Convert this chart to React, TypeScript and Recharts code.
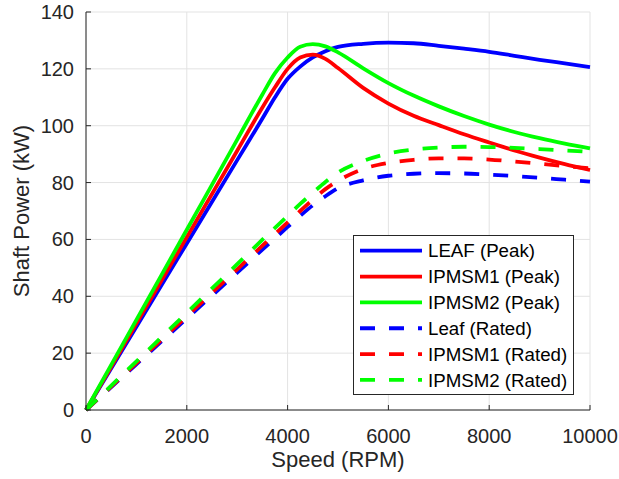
import { LineChart, Line, XAxis, YAxis, CartesianGrid, Legend } from 'recharts';

// speed samples (RPM)
const rpm = [0, 1000, 2000, 3000, 3500, 3750, 4000, 4250, 4500, 4750, 5000, 5500, 6000, 6500, 7000, 7500, 8000, 8500, 9000, 9500, 10000];

// shaft power (kW)
const leafPeak = [0, 29.3, 58.6, 87.9, 102.5, 110, 116.5, 120.8, 124, 126.2, 127.7, 128.8, 129.2, 129, 128.1, 127.1, 126, 124.6, 123.2, 121.9, 120.6];
const ipmsm1Peak = [0, 30.4, 60.8, 91.2, 106.4, 113.5, 120, 124, 125, 123.5, 120.3, 113.3, 107.8, 103.5, 100.2, 97, 94.1, 91.3, 88.8, 86.5, 84.4];
const ipmsm2Peak = [0, 31.7, 63.4, 95.1, 111, 118.5, 124, 127.8, 128.7, 127.9, 125.8, 120.2, 115, 110.6, 106.8, 103.4, 100.4, 97.8, 95.6, 93.7, 92];
const leafRated = [0, 16.1, 32.2, 48.3, 56.4, 60.4, 64.4, 68.3, 72, 75.2, 78, 80.8, 82.4, 83.1, 83.3, 83.2, 82.8, 82.3, 81.7, 81, 80.3];
const ipmsm1Rated = [0, 16.5, 33, 49.5, 57.8, 61.9, 66, 70, 74, 77.7, 80.6, 84.8, 86.9, 88, 88.5, 88.5, 88.1, 87.4, 86.6, 85.8, 85];
const ipmsm2Rated = [0, 17.1, 34.2, 51.3, 59.9, 64.1, 68.3, 72.5, 76.4, 80.2, 83.5, 87.6, 90.2, 91.6, 92.3, 92.6, 92.5, 92.2, 91.8, 91.3, 90.8];

const xTicks = [0, 2000, 4000, 6000, 8000, 10000];
const yTicks = [0, 20, 40, 60, 80, 100, 120, 140];

const data = rpm.map((r, i) => ({
  rpm: r,
  leafPeak: leafPeak[i],
  ipmsm1Peak: ipmsm1Peak[i],
  ipmsm2Peak: ipmsm2Peak[i],
  leafRated: leafRated[i],
  ipmsm1Rated: ipmsm1Rated[i],
  ipmsm2Rated: ipmsm2Rated[i],
}));

const DASH = '15 14';
const series = [
  { key: 'leafPeak', name: 'LEAF (Peak)', color: '#0000ff', dash: undefined },
  { key: 'ipmsm1Peak', name: 'IPMSM1 (Peak)', color: '#ff0000', dash: undefined },
  { key: 'ipmsm2Peak', name: 'IPMSM2 (Peak)', color: '#00ff00', dash: undefined },
  { key: 'leafRated', name: 'Leaf (Rated)', color: '#0000ff', dash: DASH },
  { key: 'ipmsm1Rated', name: 'IPMSM1 (Rated)', color: '#ff0000', dash: DASH },
  { key: 'ipmsm2Rated', name: 'IPMSM2 (Rated)', color: '#00ff00', dash: DASH },
];

const INK = '#262626';
const FONT = 'Arial, "Liberation Sans", sans-serif';
const LW = 3.8;

const BottomTick = ({ x, y, payload }: any) => (
  <g>
    <line x1={x} x2={x} y1={y} y2={y - 5} stroke={INK} />
    <text x={x} y={y + 33} textAnchor="middle" fill={INK} fontSize={20}>
      {payload.value}
    </text>
  </g>
);

const LeftTick = ({ x, y, payload }: any) => (
  <g>
    <line x1={x} x2={x + 5} y1={y} y2={y} stroke={INK} />
    <text x={x - 12} y={y + 7} textAnchor="end" fill={INK} fontSize={20}>
      {payload.value}
    </text>
  </g>
);

const TopTick = ({ x, y }: any) => <line x1={x} x2={x} y1={y} y2={y + 5} stroke={INK} />;
const RightTick = ({ x, y }: any) => <line x1={x} x2={x - 5} y1={y} y2={y} stroke={INK} />;

function LegendBox() {
  return (
    <svg width={219} height={158} style={{ display: 'block' }}>
      {series.map((s, i) => {
        const cy = 14.7 + i * 25.85;
        return (
          <g key={s.key}>
            <line x1={6} x2={68} y1={cy} y2={cy} stroke={s.color} strokeWidth={LW} strokeDasharray={s.dash} />
            <text x={74} y={cy + 6.6} fill="#000" fontSize={18.7} fontFamily={FONT}>
              {s.name}
            </text>
          </g>
        );
      })}
    </svg>
  );
}

export default function App() {
  return (
    <div style={{ position: 'absolute', left: 0, top: 0, width: 619, height: 479, background: '#fff', fontFamily: FONT }}>
      <LineChart width={619} height={479} data={data} margin={{ top: 12, right: 29, bottom: 0, left: 0 }}>
        <CartesianGrid stroke="#e3e3e3" />
        <XAxis
          dataKey="rpm"
          type="number"
          domain={[0, 10000]}
          ticks={xTicks}
          height={69}
          tickSize={0}
          tickMargin={0}
          tickLine={false}
          axisLine={{ stroke: INK }}
          tick={<BottomTick />}
          label={{ value: 'Speed (RPM)', position: 'insideBottom', offset: 12, style: { fontSize: 22, fill: INK } }}
        />
        <XAxis
          xAxisId="top"
          orientation="top"
          dataKey="rpm"
          type="number"
          domain={[0, 10000]}
          ticks={xTicks}
          height={0}
          tickSize={0}
          tickMargin={0}
          tickLine={false}
          axisLine={{ stroke: INK }}
          tick={<TopTick />}
        />
        <YAxis
          type="number"
          domain={[0, 140]}
          ticks={yTicks}
          width={86}
          tickSize={0}
          tickMargin={0}
          tickLine={false}
          axisLine={{ stroke: INK }}
          tick={<LeftTick />}
          label={{
            value: 'Shaft Power (kW)',
            angle: -90,
            position: 'insideLeft',
            offset: 21,
            style: { textAnchor: 'middle', fontSize: 22, fill: INK },
          }}
        />
        <YAxis
          yAxisId="right"
          orientation="right"
          type="number"
          domain={[0, 140]}
          ticks={yTicks}
          width={0}
          tickSize={0}
          tickMargin={0}
          tickLine={false}
          axisLine={{ stroke: INK }}
          tick={<RightTick />}
        />
        {series.map((s) => (
          <Line
            key={s.key}
            type="monotone"
            dataKey={s.key}
            name={s.name}
            stroke={s.color}
            strokeWidth={LW}
            strokeDasharray={s.dash}
            dot={false}
            activeDot={false}
            isAnimationActive={false}
          />
        ))}
        <Legend
          layout="vertical"
          align="center"
          verticalAlign="middle"
          content={() => <LegendBox />}
          wrapperStyle={{
            left: 353,
            top: 235,
            width: 221,
            height: 160,
            border: `1px solid ${INK}`,
            background: '#fff',
            boxSizing: 'border-box',
          }}
        />
      </LineChart>
    </div>
  );
}
